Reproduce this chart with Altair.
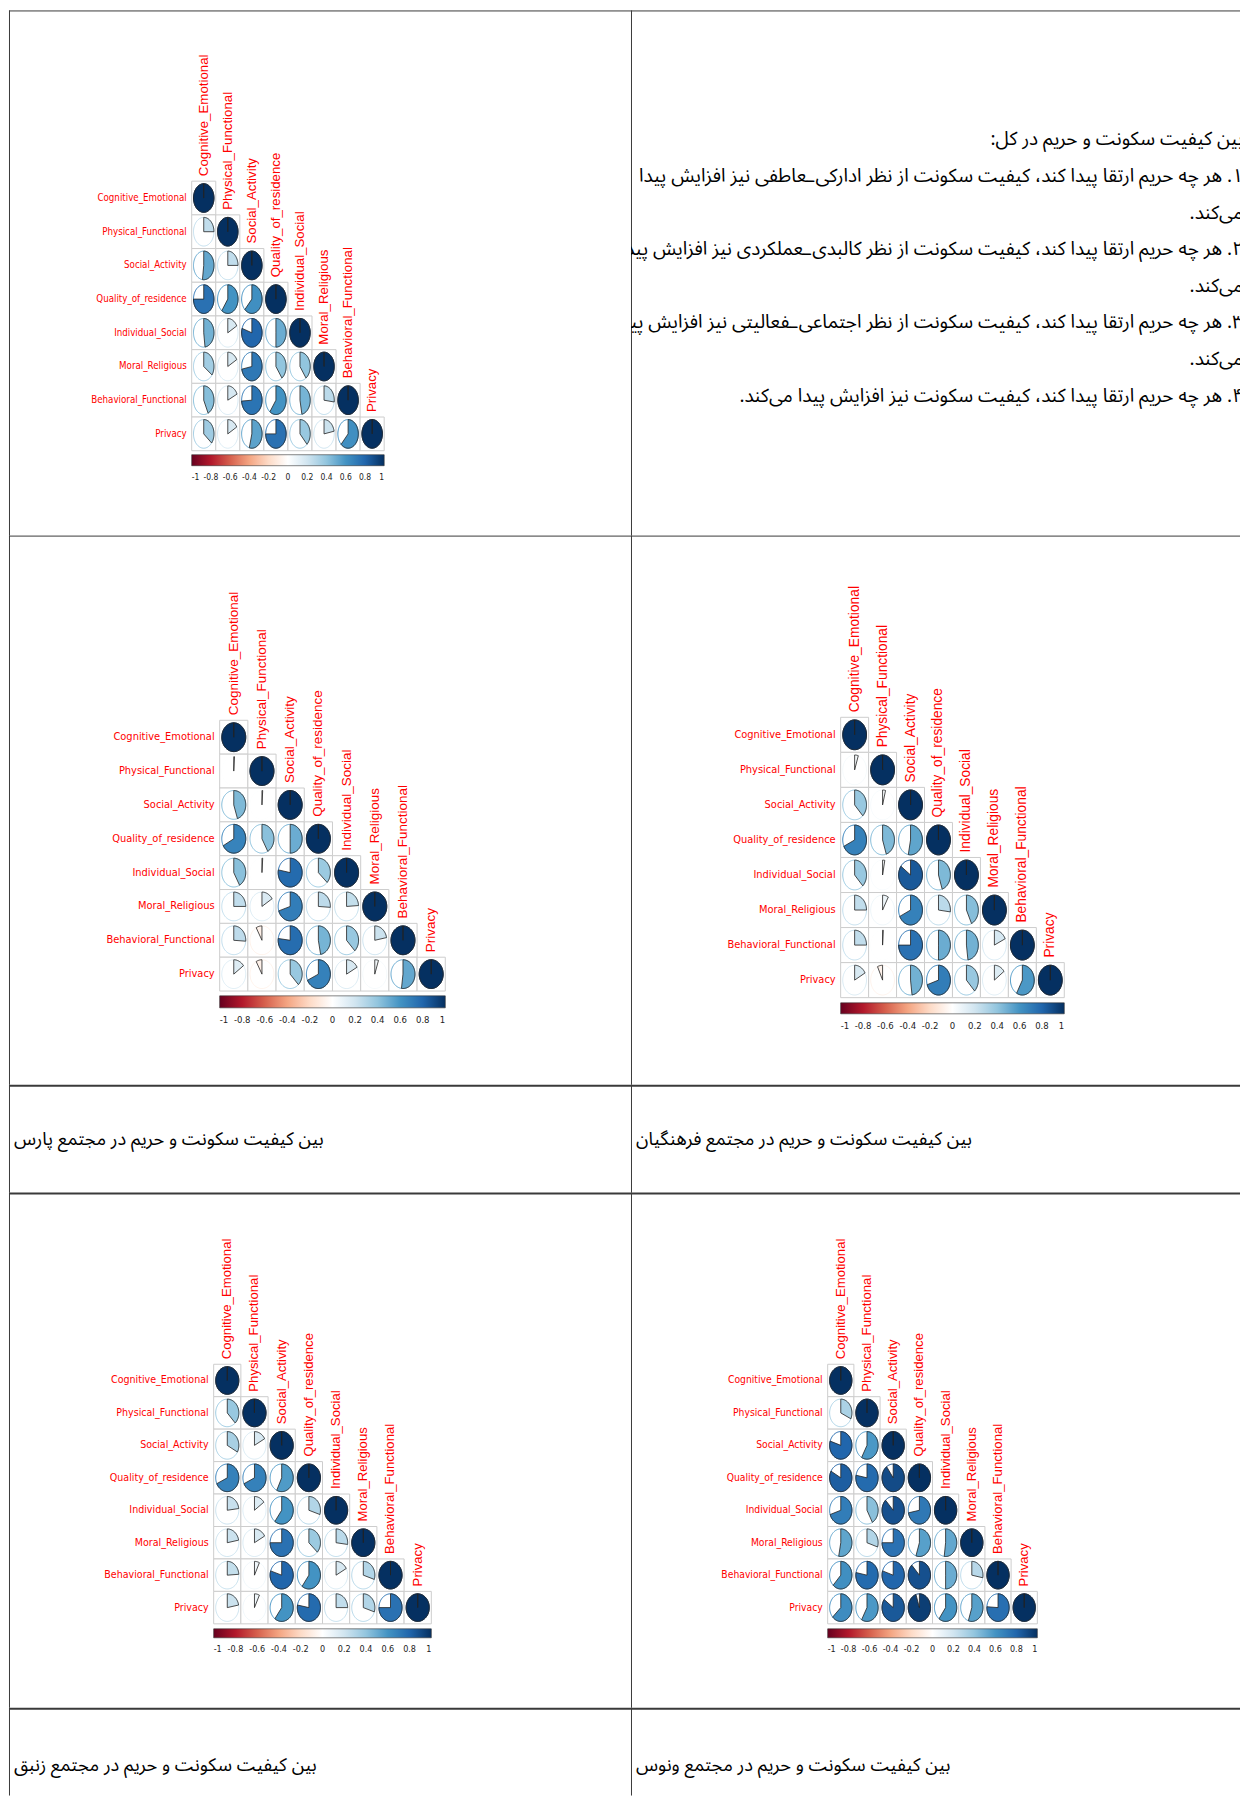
import math
import numpy as np
import pandas as pd
import altair as alt

# ---------------- data ----------------
VARS = ["Cognitive_Emotional", "Physical_Functional", "Social_Activity",
        "Quality_of_residence", "Individual_Social", "Moral_Religious",
        "Behavioral_Functional", "Privacy"]

# lower-triangle correlations, row i (i = 1..7) holds columns 0..i-1
CORR_TOTAL = [
    [0.25],
    [0.52, 0.25],
    [0.75, 0.60, 0.62],
    [0.48, 0.17, 0.80, 0.50],
    [0.35, 0.17, 0.72, 0.40, 0.40],
    [0.43, 0.18, 0.74, 0.60, 0.47, 0.27],
    [0.36, 0.17, 0.54, 0.75, 0.38, 0.22, 0.62],
]
CORR_PARS = [
    [0.01],
    [0.45, 0.01],
    [0.67, 0.42, 0.50],
    [0.42, 0.01, 0.78, 0.37],
    [0.25, 0.16, 0.70, 0.26, 0.24],
    [0.26, -0.08, 0.77, 0.47, 0.38, 0.22],
    [0.15, -0.08, 0.38, 0.68, 0.17, 0.05, 0.52],
]
CORR_FARHANGIAN = [
    [0.05],
    [0.38, 0.04],
    [0.68, 0.45, 0.53],
    [0.38, 0.03, 0.85, 0.45],
    [0.25, 0.08, 0.68, 0.27, 0.43],
    [0.25, 0.01, 0.75, 0.50, 0.48, 0.18],
    [0.17, -0.07, 0.48, 0.70, 0.38, 0.15, 0.58],
]
CORR_ZANBAGH = [
    [0.38],
    [0.33, 0.17],
    [0.68, 0.68, 0.57],
    [0.23, 0.15, 0.60, 0.30],
    [0.22, 0.17, 0.75, 0.37, 0.27],
    [0.24, 0.07, 0.80, 0.60, 0.17, 0.30],
    [0.22, 0.07, 0.60, 0.78, 0.25, 0.30, 0.75],
]
CORR_VENUS = [
    [0.32],
    [0.80, 0.58],
    [0.83, 0.78, 0.90],
    [0.70, 0.42, 0.88, 0.72],
    [0.53, 0.30, 0.75, 0.55, 0.52],
    [0.62, 0.78, 0.80, 0.88, 0.50, 0.28],
    [0.63, 0.58, 0.85, 0.95, 0.60, 0.55, 0.76],
]

TICKS = [-1, -0.8, -0.6, -0.4, -0.2, 0, 0.2, 0.4, 0.6, 0.8, 1]
RDBU = ["#67001F", "#B2182B", "#D6604D", "#F4A582", "#FDDBC7", "#FFFFFF",
        "#D1E5F0", "#92C5DE", "#4393C3", "#2166AC", "#053061"]

RLE, PDF = "\u202b", "\u202c"
TEXT_LINES = [
    "بین کیفیت سکونت و حریم در کل:",
    "۱. هر چه حریم ارتقا پیدا کند، کیفیت سکونت از نظر ادارکی\u200cـعاطفی نیز افزایش پیدا",
    "می\u200cکند.",
    "۲. هر چه حریم ارتقا پیدا کند، کیفیت سکونت از نظر کالبدی\u200cـعملکردی نیز افزایش پیدا",
    "می\u200cکند.",
    "۳. هر چه حریم ارتقا پیدا کند، کیفیت سکونت از نظر اجتماعی\u200cـفعالیتی نیز افزایش پیدا",
    "می\u200cکند.",
    "۴. هر چه حریم ارتقا پیدا کند، کیفیت سکونت نیز افزایش پیدا می\u200cکند.",
]
CAPTIONS = [
    "بین کیفیت سکونت و حریم در مجتمع پارس",
    "بین کیفیت سکونت و حریم در مجتمع فرهنگیان",
    "بین کیفیت سکونت و حریم در مجتمع زنبق",
    "بین کیفیت سکونت و حریم در مجتمع ونوس",
]

# ---------------- styling ----------------
NARROW = "Liberation Sans Narrow, Arial Narrow, DejaVu Sans Condensed, Liberation Sans, sans-serif"
SANS = "Liberation Sans, Arial, sans-serif"
PFONT = "Noto Sans Arabic, Vazirmatn, DejaVu Sans, sans-serif"
LINE = "#3a3a3a"

FILL_SCALE = alt.Scale(domain=TICKS, range=RDBU, interpolate="rgb")
# outline colour uses the same palette on a percent version of r
STROKE_SCALE = alt.Scale(domain=[t * 100 for t in TICKS], range=RDBU,
                         interpolate="rgb")
LABEL_EXPR = "replace(format(datum.value, '.1~f'), '\u2212', '-')"


def ellipse_path(ax, n=96):
    th = np.linspace(0, 2 * math.pi, n + 1)
    pts = [f"{ax * math.sin(t):.4f},{-math.cos(t):.4f}" for t in th]
    return "M" + " L".join(pts) + " Z"


def wedge_path(r, ax):
    n = max(2, int(math.ceil(abs(r) * 96)) + 1)
    th = np.linspace(0, 2 * math.pi * r, n)
    pts = [f"{ax * math.sin(t):.4f},{-math.cos(t):.4f}" for t in th]
    return "M0,0 L" + " L".join(pts) + " Z"


def borders(W, H, top_w):
    d = pd.DataFrame({"a": [0]})
    top = alt.Chart(d).mark_rule(color=LINE, strokeWidth=top_w).encode(
        x=alt.value(0), x2=alt.value(W), y=alt.value(top_w / 2))
    left = alt.Chart(d).mark_rule(color=LINE, strokeWidth=1).encode(
        x=alt.value(0.5), y=alt.value(0), y2=alt.value(H))
    return [top, left]


def corr_panel(tri, W, H, left, top, cw, ch, bar_top, bar_h,
               row_fs, col_fs, lab_fs, top_w):
    ax = cw / ch
    recs = []
    for i in range(len(VARS)):
        for j in range(i + 1):
            r = 1.0 if i == j else tri[i - 1][j]
            recs.append(dict(i=i, j=j, r=r, rs=r * 100, xc=j + 0.5, yc=i + 0.5,
                             x0=j, x1=j + 1, y0=i, y1=i + 1,
                             wedge=wedge_path(r, ax)))
    df = pd.DataFrame(recs)
    labs = pd.DataFrame({"name": VARS, "k": list(range(len(VARS)))})
    labs["kc"] = labs["k"] + 0.5
    labs["edge"] = 0.0

    xs = alt.Scale(domain=[-left / cw, (W - left) / cw], nice=False, zero=False)
    ys = alt.Scale(domain=[-top / ch, (H - top) / ch], nice=False, zero=False,
                   reverse=True)
    size = (0.85 * ch) ** 2

    grid = alt.Chart(df).mark_rect(fill="white", stroke="#cdcdcd",
                                   strokeWidth=1).encode(
        x=alt.X("x0:Q", scale=xs, axis=None), x2="x1:Q",
        y=alt.Y("y0:Q", scale=ys, axis=None), y2="y1:Q")

    outline = alt.Chart(df).mark_point(filled=False, opacity=1,
                                       strokeWidth=1).encode(
        x=alt.X("xc:Q", scale=xs, axis=None),
        y=alt.Y("yc:Q", scale=ys, axis=None),
        shape=alt.value(ellipse_path(ax)),
        size=alt.value(size),
        stroke=alt.Stroke("rs:Q", scale=STROKE_SCALE, legend=None))

    wedges = alt.Chart(df).mark_point(filled=True, opacity=1, stroke="#222222",
                                      strokeWidth=0.8).encode(
        x=alt.X("xc:Q", scale=xs, axis=None),
        y=alt.Y("yc:Q", scale=ys, axis=None),
        shape=alt.Shape("wedge:N", scale=None),
        size=alt.value(size),
        fill=alt.Fill("r:Q", scale=FILL_SCALE, legend=alt.Legend(
            orient="none", legendX=left, legendY=bar_top,
            direction="horizontal", title=None, padding=0,
            gradientLength=cw * len(VARS), gradientThickness=bar_h,
            gradientStrokeColor="#333333", gradientStrokeWidth=0.6,
            values=TICKS, labelExpr=LABEL_EXPR, labelAlign="center",
            labelOverlap=False, labelOffset=7, labelFont=NARROW,
            labelFontSize=lab_fs, labelColor="#222222")))

    rowlab = alt.Chart(labs).mark_text(
        align="right", baseline="middle", dx=-5, color="red",
        font=NARROW, fontSize=row_fs).encode(
        x=alt.X("edge:Q", scale=xs, axis=None),
        y=alt.Y("kc:Q", scale=ys, axis=None),
        text="name:N")

    collab = alt.Chart(labs).mark_text(
        align="left", baseline="middle", dx=5, angle=270, color="red",
        font=SANS, fontSize=col_fs).encode(
        x=alt.X("kc:Q", scale=xs, axis=None),
        y=alt.Y("k:Q", scale=ys, axis=None),
        text="name:N")

    return alt.layer(*borders(W, H, top_w), grid, outline, wedges,
                     rowlab, collab).properties(width=W, height=H)


def text_panel(W, H, top_w):
    d = pd.DataFrame({"k": list(range(len(TEXT_LINES))),
                      "t": [RLE + s + PDF for s in TEXT_LINES]})
    y0, step = 129.0, 36.7
    ys = alt.Scale(domain=[-y0 / step, (H - y0) / step], nice=False,
                   zero=False, reverse=True)
    txt = alt.Chart(d).mark_text(align="right", baseline="middle",
                                 font=PFONT, fontSize=19, color="black",
                                 clip=True).encode(
        x=alt.value(W + 3),
        y=alt.Y("k:Q", scale=ys, axis=None),
        text="t:N")
    return alt.layer(*borders(W, H, top_w), txt).properties(width=W, height=H)


def caption_panel(text, W, H, top_w, ypos):
    d = pd.DataFrame({"t": [RLE + text + PDF]})
    txt = alt.Chart(d).mark_text(align="left", baseline="middle",
                                 font=PFONT, fontSize=18.3, color="black").encode(
        x=alt.value(5), y=alt.value(ypos), text="t:N")
    return alt.layer(*borders(W, H, top_w), txt).properties(width=W, height=H)


WL, WR = 623, 610
H1, H2, H3, H4, H5 = 526, 550, 108, 516, 88

p1 = corr_panel(CORR_TOTAL, WL, H1, 183, 171, 24.1, 33.75, 445, 11,
                9.7, 13.3, 8.5, 1)
pt = text_panel(WR, H1, 1)
p2 = corr_panel(CORR_PARS, WL, H2, 211, 185, 28.25, 33.9, 461, 12,
                11, 13.5, 9.5, 1)
p3 = corr_panel(CORR_FARHANGIAN, WR, H2, 210, 182, 28.0, 35.1, 468, 11,
                11, 13.8, 9.5, 1)
c1 = caption_panel(CAPTIONS[0], WL, H3, 2, 55)
c2 = caption_panel(CAPTIONS[1], WR, H3, 2, 55)
p4 = corr_panel(CORR_ZANBAGH, WL, H4, 205, 172, 27.25, 32.5, 437, 9,
                10.6, 13.2, 9, 2)
p5 = corr_panel(CORR_VENUS, WR, H4, 197, 172, 26.25, 32.5, 437, 9,
                10.3, 13.2, 9, 2)
c3 = caption_panel(CAPTIONS[2], WL, H5, 2, 58)
c4 = caption_panel(CAPTIONS[3], WR, H5, 2, 58)

chart = alt.concat(p1, pt, p2, p3, c1, c2, p4, p5, c3, c4,
                   columns=2, spacing=0, bounds="flush").resolve_scale(
    fill="independent", stroke="independent").resolve_legend(
    fill="independent", stroke="independent").properties(
    padding=0).configure_view(stroke=None)

chart.save("out.html", embed_options={"renderer": "svg", "actions": False})
